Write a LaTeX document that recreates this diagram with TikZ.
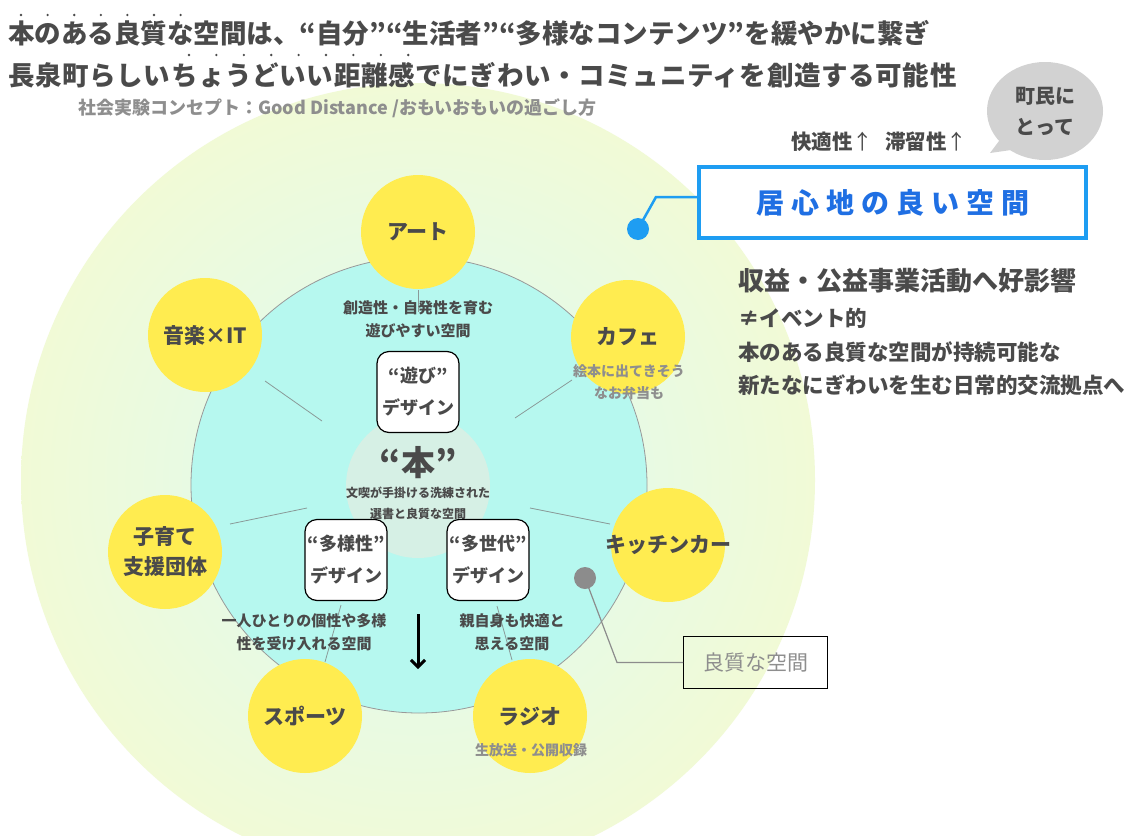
\documentclass[tikz,border=0pt]{standalone}
\usepackage{fontspec}
\setmainfont{Noto Sans CJK JP}
\usetikzlibrary{shapes.geometric,arrows.meta}
\definecolor{ylw}{HTML}{FFEC50}
\definecolor{aqua}{HTML}{B6F8EF}
\definecolor{core}{HTML}{D6F0E5}
\definecolor{outerA}{HTML}{DCFBF5}
\definecolor{outerB}{HTML}{F1FAD6}
\definecolor{txt}{HTML}{4A4A4A}
\definecolor{gtxt}{HTML}{8E8E8E}
\definecolor{blueline}{HTML}{1E9DF2}
\definecolor{bluetxt}{HTML}{1F6FE3}
\definecolor{spoke}{HTML}{8A9A98}
\definecolor{bubblegray}{HTML}{D2D2D2}
\definecolor{dotgray}{HTML}{8C8C8C}
\newcommand{\fs}[2]{\fontsize{#1}{#2}\selectfont}
\newcommand{\lsp}{\hspace{7pt}}
\begin{document}
\begin{tikzpicture}[x=1pt,y=-1pt,
  bubble/.style={circle,fill=ylw,minimum size=114pt,inner sep=0pt},
  btext/.style={align=center,text=txt,font=\bfseries\fs{21}{30}},
  dbox/.style={draw=black,line width=1.2pt,fill=white,rounded corners=12pt,minimum width=82pt,minimum height=81pt,align=center,text=txt,font=\bfseries\fs{18}{32},inner sep=0pt},
  intext/.style={align=center,text=txt,font=\bfseries\fs{15}{23}},
  captext/.style={align=center,text=gtxt,font=\bfseries\fs{14}{22}},
  spk/.style={draw=spoke,line width=0.8pt},
  rtext/.style={anchor=west,text=txt,font=\bfseries\fs{21.5}{26},inner sep=0pt},
]
\useasboundingbox (0,0) rectangle (1134,835);
\fill[white] (0,0) rectangle (1134,835);
\begin{scope}
\clip (0,0) rectangle (1134,835);
\shade[inner color=outerA, outer color=outerB] (418,480) circle[radius=397];
\end{scope}
% inner ring and core
\node[circle,draw=gray!80,line width=0.8pt,fill=aqua,minimum size=456pt,inner sep=0pt] (ring) at (419,485) {};
\node[circle,fill=core,minimum size=144pt,inner sep=0pt] (core) at (418,486) {};
% spokes
\coordinate (sA1) at (418,290); \coordinate (sA2) at (418,312);
\coordinate (sM1) at (265,381); \coordinate (sM2) at (322,421);
\coordinate (sC1) at (572,380); \coordinate (sC2) at (515,418);
\coordinate (sK1) at (610,524); \coordinate (sK2) at (530,508);
\coordinate (sP1) at (230,524); \coordinate (sP2) at (307,508);
\coordinate (sS1) at (341,605); \coordinate (sS2) at (325,662);
\coordinate (sR1) at (497,606); \coordinate (sR2) at (512,660);
\foreach \a/\b in {sA1/sA2,sM1/sM2,sC1/sC2,sK1/sK2,sP1/sP2,sS1/sS2,sR1/sR2}
  \draw[spk] (\a) -- (\b);
% bubbles
\node[bubble] (art) at (418,232) {};
\node[bubble] (cafe) at (628,337) {};
\node[bubble] (kitchen) at (668,545) {};
\node[bubble] (radio) at (530,716) {};
\node[bubble] (sports) at (305,716) {};
\node[bubble] (kids) at (165,552) {};
\node[bubble] (music) at (205,335) {};
\node[btext] at (art) {アート};
\node[btext] at (cafe) {カフェ};
\node[btext] at (kitchen) {キッチンカー};
\node[btext] at (radio) {ラジオ};
\node[btext] at (sports) {スポーツ};
\node[btext] at (kids) {子育て\\支援団体};
\node[btext] at (music) {音楽×IT};
\node[captext] (cafecap) at (629,382) {絵本に出てきそう\\なお弁当も};
\node[captext] (radiocap) at (531,750) {生放送・公開収録};
% inner texts
\node[intext] (tplay) at (418,319) {創造性・自発性を育む\\遊びやすい空間};
\node[intext] (tdiv) at (304,632) {一人ひとりの個性や多様\\性を受け入れる空間};
\node[intext] (tgen) at (512,632) {親自身も快適と\\思える空間};
\node[text=txt,font=\bfseries\fs{34}{34}] (hon) at (418,463) {“本”};
\node[text=txt,align=center,font=\bfseries\fs{12}{21}] (honcap) at (418,503) {文喫が手掛ける洗練された\\選書と良質な空間};
% design boxes
\node[dbox] (play) at (418,392) {“遊び”\\デザイン};
\node[dbox] (div) at (346,560) {“多様性”\\デザイン};
\node[dbox] (gen) at (488,560) {“多世代”\\デザイン};
% arrow
\coordinate (ar1) at (418,614); \coordinate (ar2) at (418,669);
\draw[line width=3pt,-{Straight Barb[length=7pt,width=14pt]}] (ar1) -- (ar2);
% good space marker
\node[circle,fill=dotgray,minimum size=22pt,inner sep=0pt] (gdot) at (585,578) {};
\node[draw=black,line width=1pt,minimum width=144pt,minimum height=52pt,text=gtxt,font=\fs{21}{21}] (qbox) at (755.5,662.5) {良質な空間};
\coordinate (gbend) at (617,662.5);
\draw[draw=dotgray,line width=1.2pt] (gdot.center) -- (gbend) -- (qbox.west);
% comfortable space
\node[circle,fill=blueline,minimum size=22pt,inner sep=0pt] (bdot) at (638,229) {};
\node[draw=blueline,line width=4pt,fill=white,minimum width=387pt,minimum height=71pt,text=bluetxt,font=\bfseries\fs{28}{28}] (ibox) at (892.5,202.5) {居\lsp 心\lsp 地\lsp の\lsp 良\lsp い\lsp 空\lsp 間};
\coordinate (bbend) at (656,197);
\draw[draw=blueline,line width=2.5pt] (bdot.center) -- (bbend) -- (bbend -| ibox.west);
\node[text=txt,font=\bfseries\fs{20.5}{20.5}] (kaiteki) at (879,142) {快適性{\mdseries↑}\hspace{12pt}滞留性{\mdseries↑}};
% speech bubble
\node[ellipse,fill=bubblegray,minimum width=116pt,minimum height=98pt,inner sep=0pt] (say) at (1045,111) {};
\fill[bubblegray] (1005,133) -- (990,153) -- (1025,148) -- cycle;
\node[text=txt,align=center,font=\bfseries\fs{20}{31}] (saytext) at (say) {町民に\\とって};
% right texts
\node[rtext,font=\bfseries\fs{26}{26}] (r1) at (738,281) {収益・公益事業活動へ好影響};
\node[rtext] (r2) at (738,318) {≠イベント的};
\node[rtext] (r3) at (738,352) {本のある良質な空間が持続可能な};
\node[rtext] (r4) at (738,385) {新たなにぎわいを生む日常的交流拠点へ};
% titles
\node[anchor=west,inner sep=0pt,text=txt,font=\bfseries\fs{26.5}{26.5}] (t1) at (8,33) {本のある良質な空間は、“自分”“生活者”“多様なコンテンツ”を緩やかに繋ぎ};
\node[anchor=west,inner sep=0pt,text=txt,font=\bfseries\fs{26.5}{26.5}\addfontfeature{LetterSpace=2.5}] (t2) at (8,75) {長泉町らしいちょうどいい距離感でにぎわい・コミュニティを創造する可能性};
\node[anchor=west,inner sep=0pt,text=gtxt,font=\bfseries\fs{18}{18}] (sub) at (78,108) {社会実験コンセプト：Good Distance /おもいおもいの過ごし方};
\foreach \i in {0,...,6} \fill[txt] (21+26.6*\i,15) circle[radius=1.3];
\foreach \i in {0,...,8} \fill[txt] (189+27.4*\i,55) circle[radius=1.3];
\end{tikzpicture}
\end{document}
